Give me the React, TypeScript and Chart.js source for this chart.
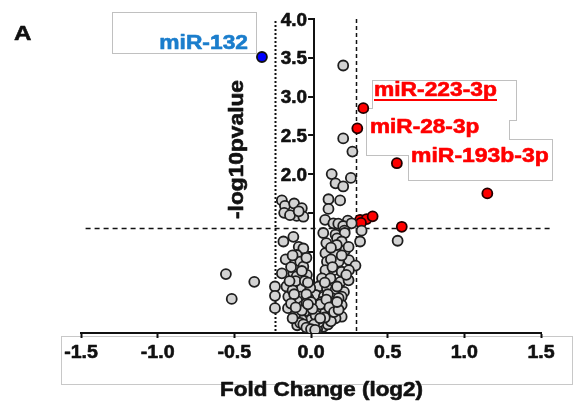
import React, { useEffect, useRef } from 'react';
import { Chart, registerables } from 'chart.js';

Chart.register(...registerables);

// ---------- data ----------
const xTickValues = [-1.5, -1.0, -0.5, 0.0, 0.5, 1.0, 1.5];
const yTickValues = [0.5, 1.0, 1.5, 2.0, 2.5, 3.0, 3.5, 4.0];
const yLabelMin = 2.0;

const xTitle = 'Fold Change (log2)';
const yTitle = '-log10pvalue';
const panelLabel = 'A';

const foldThresholdLeft = -0.236;
const foldThresholdRight = 0.293;
const pThreshold = 1.3;
const pLineFrom = -1.47;
const pLineTo = 1.56;
const yAxisAt = 0.02;

const grayPoints: [number, number][] = [
  // upper right
  [0.21, 3.40], [0.21, 2.46], [0.27, 2.29], [0.135, 2.00], [0.16, 1.88], [0.21, 1.84],
  [0.26, 1.95], [0.19, 1.66], [0.114, 1.675], [0.114, 1.55], [0.092, 1.41], [0.24, 1.40],
  [0.146, 1.365], [0.178, 1.36], [0.21, 1.33], [0.265, 1.365], [0.33, 1.27], [0.218, 1.27],
  [0.16, 1.22], [0.22, 1.24], [0.08, 1.24], [0.565, 1.14],
  // upper left
  [-0.19, 1.66], [-0.17, 1.59], [-0.175, 1.50], [-0.11, 1.62], [-0.06, 1.56], [-0.093, 1.46],
  [-0.137, 1.47], [-0.05, 1.45], [-0.08, 1.52],
  // lower right
  [0.32, 1.13], [0.10, 1.11], [0.17, 1.17], [0.2, 1.13], [0.094, 0.98], [0.16, 0.98],
  [0.224, 1.02], [0.168, 1.085], [0.245, 1.06], [0.104, 0.87], [0.18, 0.87], [0.247, 0.89],
  [0.29, 0.82], [0.094, 0.76], [0.15, 0.76], [0.2, 0.74], [0.247, 0.76], [0.072, 0.655],
  [0.127, 0.655], [0.192, 0.61], [0.245, 0.63], [0.05, 0.55], [0.104, 0.53], [0.16, 0.505],
  [0.215, 0.48], [0.03, 0.44], [0.084, 0.42], [0.137, 0.40], [0.2, 0.42], [0.2, 0.31],
  [0.04, 0.31], [0.094, 0.29], [0.137, 0.25], [0.05, 0.18], [0.104, 0.12], [0.2, 0.16],
  [0.04, 0.05], [0.084, 0.075], [0.06, 0.25], [0.12, 0.20], [0.16, 0.14], [0.02, 0.20],
  [0.03, 0.12], [0.07, 0.35], [0.12, 0.34], [0.17, 0.55], [0.23, 0.70], [0.13, 0.90],
  [0.11, 0.45], [0.15, 0.30], [0.09, 0.60], [0.14, 0.80], [0.18, 0.40], [0.025, 0.30],
  [0.10, 0.22], [0.13, 1.05], [0.20, 0.95], [0.05, 0.02], [0.07, 0.10], [0.08, 0.20],
  [0.08, 0.03], [0.11, 0.06], [0.13, 0.10], [0.09, 0.15], [0.03, 0.24], [0.06, 0.32],
  [0.10, 0.38], [0.12, 0.28], [0.15, 0.22], [0.18, 0.25], [0.04, 0.0], [0.17, 0.35],
  // lower left
  [-0.18, 1.13], [-0.115, 1.19], [-0.08, 1.06], [-0.05, 1.04], [-0.165, 0.90], [-0.093, 0.956],
  [-0.07, 0.87], [-0.05, 0.805], [-0.19, 0.72], [-0.115, 0.72], [-0.093, 0.68], [-0.027, 0.70],
  [-0.235, 0.55], [-0.16, 0.55], [-0.093, 0.57], [-0.06, 0.53], [-0.005, 0.53], [-0.235, 0.43],
  [-0.148, 0.42], [-0.07, 0.42], [-0.017, 0.40], [-0.235, 0.27], [-0.15, 0.27], [-0.08, 0.31],
  [-0.027, 0.27], [-0.05, 0.18], [-0.017, 0.14], [0.005, 0.075], [-0.13, 0.80], [-0.10, 0.62],
  [-0.04, 0.62], [-0.12, 0.50], [-0.03, 0.45], [-0.09, 0.36], [-0.05, 0.30], [-0.01, 0.22],
  [-0.04, 0.10], [-0.02, 0.04], [-0.14, 0.62], [-0.07, 0.22], [0.0, 0.35], [-0.02, 0.60],
  [-0.06, 0.75], [-0.11, 0.45], [-0.03, 0.33], [0.01, 0.15], [-0.08, 0.15], [-0.03, 0.08],
  [0.0, 0.12], [0.03, 0.18], [0.05, 0.09], [-0.01, 0.03], [0.02, 0.06], [0.06, 0.14],
  [-0.06, 0.12], [0.01, 0.26], [-0.09, 0.05], [-0.07, 0.08], [-0.05, 0.06], [-0.03, 0.02],
  [0.0, 0.0], [-0.10, 0.20], [-0.12, 0.14], [-0.06, 0.24], [-0.02, 0.32], [-0.13, 0.33],
  [-0.10, 0.28], [-0.12, 0.95], [-0.03, 0.92], [0.027, -0.01],
  // far left
  [-0.555, 0.71], [-0.517, 0.39], [-0.37, 0.61],
];

const redPoints: [number, number][] = [
  [0.341, 2.85], [0.302, 2.59], [0.56, 2.14], [1.15, 1.75], [0.592, 1.32],
  [0.32, 1.41], [0.363, 1.42], [0.402, 1.455], [0.326, 1.37],
];

const bluePoints: [number, number][] = [[-0.32, 3.51]];

const blueLabel = 'miR-132';
const redLabels = ['miR-223-3p', 'miR-28-3p', 'miR-193b-3p'];

// ---------- drawing helpers ----------
const FONT = '"Liberation Sans", Arial, Helvetica, sans-serif';

function drawText(
  ctx: CanvasRenderingContext2D, s: string, x: number, y: number, size: number,
  color: string, align: CanvasTextAlign, sx: number, rotate = false,
) {
  ctx.save();
  ctx.translate(x, y);
  if (rotate) ctx.rotate(-Math.PI / 2);
  ctx.scale(sx, 1);
  ctx.font = `bold ${size}px ${FONT}`;
  ctx.fillStyle = color;
  ctx.strokeStyle = color;
  ctx.lineWidth = 0.6;
  ctx.lineJoin = 'round';
  ctx.textAlign = align;
  ctx.textBaseline = 'alphabetic';
  ctx.fillText(s, 0, 0);
  ctx.strokeText(s, 0, 0);
  ctx.restore();
}

function unionBoxes(ctx: CanvasRenderingContext2D, rects: number[][], stroke: string) {
  ctx.save();
  ctx.strokeStyle = stroke;
  ctx.lineWidth = 1;
  for (const [x1, y1, x2, y2] of rects) ctx.strokeRect(x1 + 0.5, y1 + 0.5, x2 - x1, y2 - y1);
  ctx.fillStyle = '#ffffff';
  for (const [x1, y1, x2, y2] of rects) ctx.fillRect(x1 + 1, y1 + 1, x2 - x1 - 1, y2 - y1 - 1);
  ctx.restore();
}

const decoPlugin = {
  id: 'deco',
  beforeDraw(chart: any) {
    const ctx = chart.ctx as CanvasRenderingContext2D;
    ctx.save();
    ctx.fillStyle = '#ffffff';
    ctx.fillRect(0, 0, chart.width, chart.height);
    ctx.strokeStyle = '#c8c8c8';
    ctx.lineWidth = 1;
    ctx.strokeRect(61.5, 336.5, 511, 48);
    ctx.restore();
  },
  beforeDatasetsDraw(chart: any) {
    const ctx = chart.ctx as CanvasRenderingContext2D;
    const xs = chart.scales.x;
    const ys = chart.scales.y;
    const area = chart.chartArea;
    unionBoxes(ctx, [[112, 12, 256, 53]], '#c0c0c0');
    unionBoxes(ctx, [[372, 80, 516, 120], [366, 108, 509, 155], [408, 139, 552, 180]], '#c0c0c0');

    // x tick labels
    for (const v of xTickValues) {
      drawText(ctx, v.toFixed(1), xs.getPixelForValue(v), 358, 19, '#111111', 'center', 1.03);
    }

    // y tick marks and labels (left of the centred axis)
    const axisPx = xs.getPixelForValue(yAxisAt);
    ctx.save();
    ctx.strokeStyle = '#111111';
    ctx.lineWidth = 2;
    for (const v of yTickValues) {
      const ty = Math.round(ys.getPixelForValue(v));
      ctx.beginPath(); ctx.moveTo(axisPx - 6, ty); ctx.lineTo(axisPx, ty); ctx.stroke();
    }
    ctx.restore();
    for (const v of yTickValues) {
      if (v < yLabelMin) continue;
      drawText(ctx, v.toFixed(1), axisPx - 7, ys.getPixelForValue(v) + 6.5, 18, '#111111', 'right', 1.05);
    }

    ctx.save();
    ctx.strokeStyle = '#111111';
    // left threshold (dotted)
    ctx.lineWidth = 2;
    ctx.setLineDash([2, 2]);
    let px = Math.round(xs.getPixelForValue(foldThresholdLeft)) + 0.5;
    ctx.beginPath(); ctx.moveTo(px, area.top + 2); ctx.lineTo(px, area.bottom); ctx.stroke();
    // right threshold (dashed)
    ctx.lineWidth = 1.5;
    ctx.setLineDash([4, 3]);
    px = Math.round(xs.getPixelForValue(foldThresholdRight)) + 0.5;
    ctx.beginPath(); ctx.moveTo(px, area.top); ctx.lineTo(px, area.bottom); ctx.stroke();
    // p threshold
    ctx.setLineDash([5, 4]);
    const py = Math.round(ys.getPixelForValue(pThreshold)) + 0.5;
    ctx.beginPath();
    ctx.moveTo(xs.getPixelForValue(pLineFrom), py);
    ctx.lineTo(xs.getPixelForValue(pLineTo), py);
    ctx.stroke();
    ctx.restore();
  },
  afterDraw(chart: any) {
    const ctx = chart.ctx as CanvasRenderingContext2D;
    drawText(ctx, panelLabel, 14, 40, 21, '#111111', 'left', 1.15);
    drawText(ctx, blueLabel, 248, 49, 20, '#1a7dcc', 'right', 1.14);
    drawText(ctx, redLabels[0], 374, 96, 20, '#ff0000', 'left', 1.14);
    ctx.save();
    ctx.fillStyle = '#ff0000';
    ctx.fillRect(374, 99, 123, 2);
    ctx.restore();
    drawText(ctx, redLabels[1], 370, 133, 20, '#ff0000', 'left', 1.13);
    drawText(ctx, redLabels[2], 411, 162, 20, '#ff0000', 'left', 1.148);
    drawText(ctx, xTitle, 321.5, 396, 20, '#111111', 'center', 1.12);
    drawText(ctx, yTitle, 243, 149.5, 20, '#111111', 'center', 1.137, true);
  },
};

export default function App() {
  const ref = useRef<HTMLCanvasElement | null>(null);

  useEffect(() => {
    document.body.style.margin = '0';
    const canvas = ref.current;
    if (!canvas) return;
    const toXY = (arr: [number, number][]) => arr.map(([x, y]) => ({ x, y }));
    const pointStyle = (fill: string, border: string) => ({
      backgroundColor: fill,
      borderColor: border,
      borderWidth: 1.8,
      pointRadius: 5,
      pointHoverRadius: 5,
    });
    const chart = new Chart(canvas, {
      type: 'scatter',
      data: {
        datasets: [
          { label: 'ns', data: toXY(grayPoints), ...pointStyle('#d3d3d3', '#1e1e1e') },
          { label: 'up', data: toXY(redPoints), ...pointStyle('#ff0000', '#220000') },
          { label: 'down', data: toXY(bluePoints), ...pointStyle('#0000ff', '#111111') },
        ],
      },
      options: {
        animation: false,
        responsive: false,
        devicePixelRatio: 1,
        layout: { padding: { left: 81, right: 42, top: 19, bottom: 0 } },
        plugins: { legend: { display: false }, tooltip: { enabled: false } },
        scales: {
          x: {
            type: 'linear',
            position: 'bottom',
            min: -1.5,
            max: 1.5,
            afterBuildTicks: (s: any) => { s.ticks = xTickValues.map((v) => ({ value: v })); },
            afterFit: (s: any) => { s.height = 73; },
            grid: { drawOnChartArea: false, drawTicks: true, tickLength: 5, tickColor: '#111', tickWidth: 2 },
            border: { display: true, color: '#111', width: 2 },
            ticks: { display: false },
          },
          y: {
            type: 'linear',
            position: { x: yAxisAt } as any,
            min: -0.05,
            max: 4.0,
            afterBuildTicks: (s: any) => { s.ticks = yTickValues.map((v) => ({ value: v })); },
            grid: { drawOnChartArea: false, drawTicks: false },
            border: { display: true, color: '#111', width: 2 },
            ticks: { display: false },
          },
        },
      },
      plugins: [decoPlugin],
    });
    return () => chart.destroy();
  }, []);

  return (
    <div style={{ width: 583, height: 406 }}>
      <canvas ref={ref} width={583} height={406} style={{ display: 'block' }} />
    </div>
  );
}
